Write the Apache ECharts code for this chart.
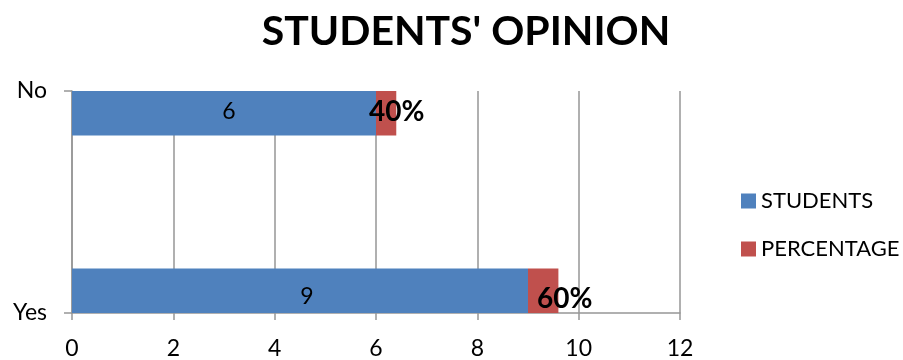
<!DOCTYPE html>
<html>
<head>
<meta charset="utf-8">
<script src="https://cdn.jsdelivr.net/npm/echarts@6/dist/echarts.min.js"></script>
<style>
  html, body { margin: 0; padding: 0; background: #fff; }
  #chart { width: 903px; height: 360px; }
</style>
</head>
<body>
<div id="chart"></div>
<script>
// Chart data
const categories = ['Yes', 'No'];
const students = [9, 6];
const percentage = [0.6, 0.4];
const xTicks = [0, 2, 4, 6, 8, 10, 12];

// Each answer sits in its own slot at the edge of the plot: first answer at the
// bottom, last answer at the top, empty slots in between.
const SLOTS = 5;
function slotIndex(i) {
  return i === 0 ? 0 : (i === categories.length - 1 ? SLOTS - 1 : i);
}
function toSlots(values, mapItem) {
  const out = new Array(SLOTS).fill(null);
  values.forEach((v, i) => { out[slotIndex(i)] = mapItem ? mapItem(v, i) : v; });
  return out;
}
const slotNames = new Array(SLOTS).fill('').map((_, k) => 'slot' + k);

const FONT = 'Lato';
const BLUE = '#4F81BD';
const RED = '#C0504D';
const GRID_GRAY = '#969696';

// Percentage label placement relative to its bar segment
const pctLabelPos = [[9, 16], [-7, 7]];
const studentLabelOffset = [[7, 6], [5, -2]];

const chart = echarts.init(document.getElementById('chart'));
chart.setOption({
  animation: false,
  backgroundColor: '#fff',
  title: {
    text: "STUDENTS' OPINION",
    left: 461,
    textAlign: 'center',
    top: 6,
    textStyle: { fontFamily: FONT, fontWeight: 'bold', fontSize: 41, color: '#000' }
  },
  legend: {
    orient: 'vertical',
    left: 736,
    top: 185,
    itemWidth: 15,
    itemHeight: 15,
    itemGap: 26,
    icon: 'rect',
    textStyle: { fontFamily: FONT, fontSize: 22, color: '#000', lineHeight: 22 },
    data: ['STUDENTS', 'PERCENTAGE']
  },
  grid: { left: 72, right: 223, top: 91, bottom: 47 },
  xAxis: {
    type: 'value',
    min: xTicks[0],
    max: xTicks[xTicks.length - 1],
    interval: 2,
    axisLine: { show: true, lineStyle: { color: GRID_GRAY, width: 1.5 } },
    axisTick: { show: true, length: 7, lineStyle: { color: GRID_GRAY, width: 1.5 } },
    splitLine: { show: true, lineStyle: { color: GRID_GRAY, width: 1.5 } },
    axisLabel: { fontFamily: FONT, fontSize: 23, color: '#000', margin: 24 }
  },
  yAxis: [
    {
      type: 'category',
      data: slotNames,
      boundaryGap: true,
      axisLine: { show: false },
      axisTick: { show: false },
      axisLabel: { show: false },
      splitLine: { show: false }
    },
    {
      type: 'category',
      data: categories,
      position: 'left',
      boundaryGap: false,
      axisLine: { show: true, lineStyle: { color: GRID_GRAY, width: 1.5 } },
      axisTick: { show: true, length: 8, lineStyle: { color: GRID_GRAY, width: 1.5 } },
      axisLabel: { fontFamily: FONT, fontSize: 23, color: '#000', margin: 25 },
      splitLine: { show: false }
    }
  ],
  series: [
    {
      name: 'STUDENTS',
      type: 'bar',
      stack: 'total',
      yAxisIndex: 0,
      barCategoryGap: '0%',
      itemStyle: { color: BLUE },
      label: {
        show: true,
        position: 'inside',
        fontFamily: FONT,
        fontSize: 23,
        color: '#000'
      },
      data: toSlots(students, (v, i) => ({ value: v, label: { offset: studentLabelOffset[i] } }))
    },
    {
      name: 'PERCENTAGE',
      type: 'bar',
      stack: 'total',
      yAxisIndex: 0,
      barCategoryGap: '0%',
      itemStyle: { color: RED },
      label: {
        show: true,
        fontFamily: FONT,
        fontWeight: 'bold',
        fontSize: 28,
        color: '#000',
        formatter: p => Math.round(p.value * 100) + '%'
      },
      data: toSlots(percentage, (v, i) => ({ value: v, label: { position: pctLabelPos[i] } }))
    }
  ]
});
</script>
</body>
</html>
